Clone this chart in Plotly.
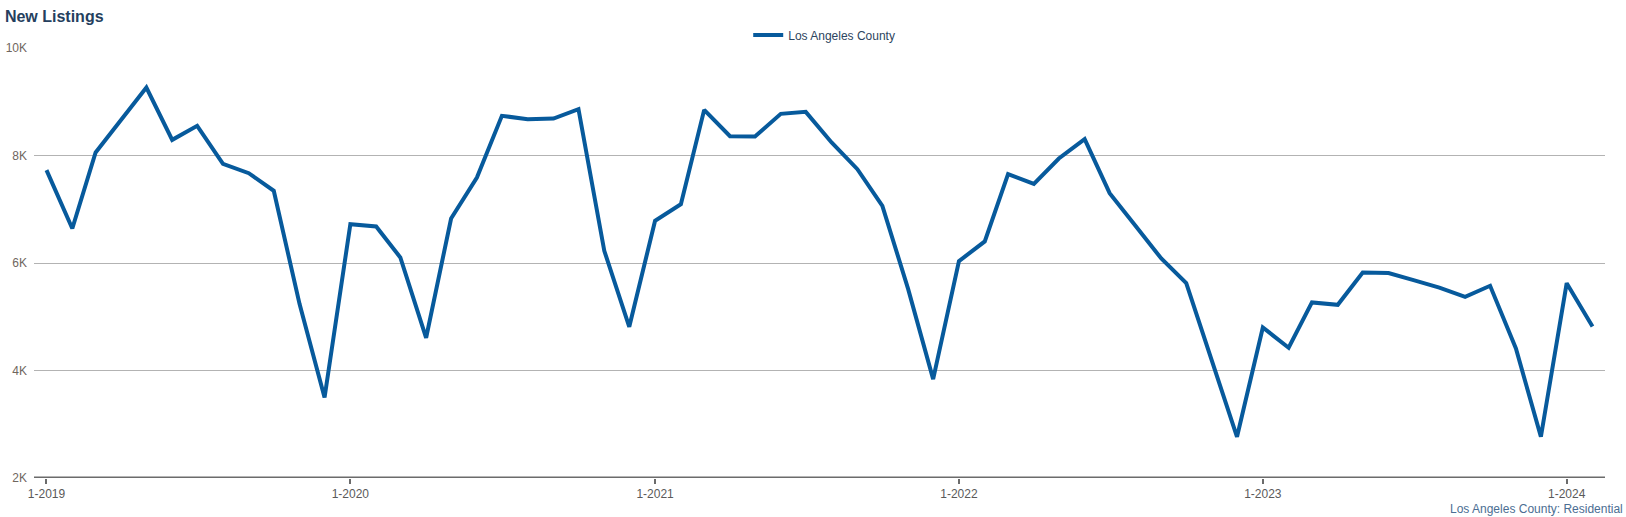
import plotly.graph_objects as go
import pandas as pd

# Data: monthly new listings, Jan 2019 - Feb 2024
months = pd.date_range("2019-01-01", "2024-02-01", freq="MS")
new_listings = [
    7727, 6642, 8056, 8660, 9265, 8291, 8552, 7845, 7671, 7343, 5235, 3499,   # 2019
    6723, 6679, 6103, 4609, 6828, 7591, 8738, 8676, 8688, 8862, 6227, 4813,   # 2020
    6785, 7095, 8849, 8360, 8353, 8775, 8812, 8242, 7746, 7064, 5514, 3840,   # 2021
    6035, 6401, 7653, 7473, 7944, 8304, 7299, 6692, 6084, 5625, 4150, 2767,   # 2022
    4801, 4423, 5266, 5222, 5824, 5812, 5681, 5541, 5371, 5576, 4410, 2767,   # 2023
    5625, 4819,                                                               # 2024
]
series_name = "Los Angeles County"
title_text = "New Listings"
footer_text = "Los Angeles County: Residential"

y_tickvals = [2000, 4000, 6000, 8000, 10000]
y_ticktext = ["2K", "4K", "6K", "8K", "10K"]
x_tickvals = pd.to_datetime(["2019-01-01", "2020-01-01", "2021-01-01",
                             "2022-01-01", "2023-01-01", "2024-01-01"])
x_ticktext = ["1-2019", "1-2020", "1-2021", "1-2022", "1-2023", "1-2024"]

LINE = "#075a9c"
FONT = "Liberation Sans, Arial, sans-serif"

fig = go.Figure()
fig.add_trace(go.Scatter(
    x=months, y=new_listings, mode="lines", name=series_name,
    line=dict(color=LINE, width=4), showlegend=True,
))

fig.update_layout(
    width=1626, height=517,
    margin=dict(l=34, r=21, t=48, b=39, autoexpand=False),
    paper_bgcolor="white", plot_bgcolor="white",
    font=dict(family=FONT, size=12, color="#555"),
    title=dict(text="<b>" + title_text + "</b>", x=0.003, xanchor="left",
               y=0.968, yanchor="middle",
               font=dict(family=FONT, size=16, color="#253f5e")),
    legend=dict(orientation="h", x=0.503, xanchor="center", y=1.03,
                yanchor="middle", font=dict(size=12, color="#2d4560"),
                bgcolor="rgba(0,0,0,0)", itemwidth=30),
    showlegend=True,
    xaxis=dict(
        type="date", automargin=False,
        range=["2018-12-17", "2024-02-16"],
        tickvals=x_tickvals, ticktext=x_ticktext,
        showgrid=False, zeroline=False,
        showline=False,
        ticks="outside", ticklen=5, tickwidth=2, tickcolor="#6b6b6b",
        tickfont=dict(size=12, color="#5a5a5a"),
    ),
    yaxis=dict(
        range=[2000, 10000], automargin=False,
        tickvals=y_tickvals, ticktext=y_ticktext,
        showgrid=True, gridcolor="#b3b3b3", gridwidth=1,
        zeroline=False, showline=False, ticks="",
        tickfont=dict(size=12, color="#6f665e"),
        ticklabelstandoff=6,
    ),
    annotations=[dict(
        text=footer_text, xref="paper", yref="paper",
        x=1.0128, xanchor="right", y=-0.05, yanchor="top",
        showarrow=False, font=dict(size=12, color="#4b6e93"),
    )],
    shapes=[dict(type="line", xref="paper", yref="y", x0=0, x1=1,
                 y0=2000, y1=2000, line=dict(color="#6b6b6b", width=3),
                 layer="above")],
)

fig.write_html("out.html",
               config={"displayModeBar": False},
               post_script="document.body.style.margin='0px';"
                           "document.body.style.overflow='hidden';")
